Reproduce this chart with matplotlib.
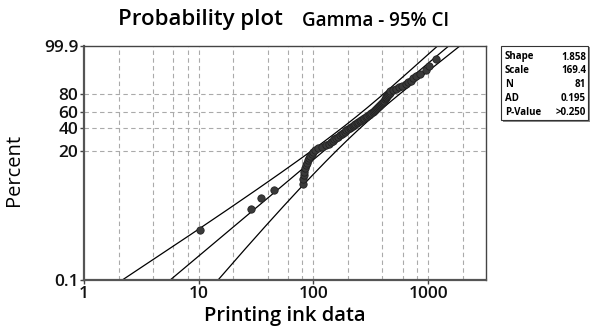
"""Gamma probability plot with 95% confidence bands."""

import math

import matplotlib
matplotlib.use("Agg")
import matplotlib.pyplot as plt
import numpy as np
from matplotlib.patches import Rectangle

# fitted gamma parameters shown in the stats box
shape = 1.858
scale = 169.4
n_obs = 81
ad_stat = "0.195"
p_value = ">0.250"

ink_data = [
    10.3, 28.7, 34.9, 45.0, 81.3, 81.8, 82.3, 83.5, 84.8, 86.5,
    88.0, 89.5, 91.0, 94.0, 97.0, 99.5, 104, 110, 118, 128,
    137, 143, 148, 152, 158, 164, 170, 176, 182, 188,
    194, 200, 207, 214, 220, 226, 232, 239, 246, 253,
    261, 269, 278, 287, 296, 305, 313, 320, 328, 336,
    343, 350, 358, 365, 372, 380, 387, 395, 403, 411,
    418, 426, 434, 442, 451, 459, 465, 470, 495, 525,
    556, 595, 636, 668, 703, 745, 790, 859, 951, 1016,
    1164,
]

pct_ticks = [0.1, 20, 40, 60, 80, 99.9]
pct_labels = ["0.1", "20", "40", "60", "80", "99.9"]
x_ticks = [1, 10, 100, 1000]
x_grid = [2, 4, 6, 8, 10, 20, 40, 60, 80, 100, 200, 400, 600, 800, 1000, 2000]

FONT = ["Open Sans", "DejaVu Sans"]
plt.rcParams["font.family"] = FONT


def gamma_cdf(x, a):
    """Regularized lower incomplete gamma P(a, x) by series."""
    x = np.asarray(x, dtype=float)
    term = np.full_like(x, 1.0 / a)
    total = term.copy()
    for k in range(1, 400):
        term = term * x / (a + k)
        total = total + term
    return total * np.exp(-x + a * np.log(x) - math.lgamma(a))


def gamma_ppf(p, a):
    """Quantile of the unit-scale gamma by bisection on log x."""
    p = np.asarray(p, dtype=float)
    lo = np.full_like(p, math.log(1e-6))
    hi = np.full_like(p, math.log(80.0))
    for _ in range(80):
        mid = 0.5 * (lo + hi)
        below = gamma_cdf(np.exp(mid), a) < p
        lo = np.where(below, mid, lo)
        hi = np.where(below, hi, mid)
    return np.exp(0.5 * (lo + hi))


def trigamma(x):
    acc = 0.0
    while x < 8:
        acc += 1.0 / x ** 2
        x += 1
    return acc + 1 / x + 1 / (2 * x ** 2) + 1 / (6 * x ** 3) - 1 / (30 * x ** 5) + 1 / (42 * x ** 7)


def to_y(p):
    return np.log10(gamma_ppf(p, shape))


# plotting positions (Benard median ranks)
ranks = np.arange(1, n_obs + 1)
plot_pos = (ranks - 0.3) / (n_obs + 0.4)

# fitted line and delta-method confidence band
p_line = np.linspace(0.0005, 0.9995, 300)
q_line = gamma_ppf(p_line, shape)
fit_x = scale * q_line
h = 1e-4
dlogq = (np.log(gamma_ppf(p_line, shape + h)) - np.log(gamma_ppf(p_line, shape - h))) / (2 * h)
psi1 = trigamma(shape)
det = shape * psi1 - 1.0
var_log = (shape * dlogq ** 2 - 2 * dlogq + psi1) / det / n_obs
se = np.sqrt(var_log)
lower_x = fit_x * np.exp(-1.96 * se)
upper_x = fit_x * np.exp(1.96 * se)
y_line = np.log10(q_line)

fig = plt.figure(figsize=(5.9, 3.31), dpi=100)
ax = fig.add_axes([84 / 590, 51 / 331, 402 / 590, 234 / 331])

ax.set_xscale("log")
ax.set_xlim(1, 3200)
ax.set_ylim(to_y(0.001), to_y(0.999))

for gx in x_grid:
    ax.axvline(gx, color="#aaaaaa", lw=0.8, ls=(0, (4, 3)), zorder=0)
for gp in pct_ticks[1:-1]:
    ax.axhline(to_y(gp / 100), color="#aaaaaa", lw=0.8, ls=(0, (4, 3)), zorder=0)

ax.plot(fit_x, y_line, color="black", lw=0.9, zorder=2)
ax.plot(lower_x, y_line, color="black", lw=0.9, zorder=2)
ax.plot(upper_x, y_line, color="black", lw=0.9, zorder=2)
ax.scatter(ink_data, to_y(plot_pos), s=28, color="#3a3a3a",
           edgecolor="#222222", linewidth=0.6, zorder=3)

ax.set_yticks(to_y(np.array(pct_ticks) / 100))
ax.set_yticklabels(pct_labels)
ax.set_xticks(x_ticks)
ax.set_xticklabels([str(t) for t in x_ticks])
ax.xaxis.set_minor_locator(matplotlib.ticker.NullLocator())
ax.tick_params(axis="both", length=3, width=1, color="#444444", labelsize=12.5,
               labelcolor="#111111", pad=1)
for lab in ax.get_xticklabels() + ax.get_yticklabels():
    lab.set_fontweight("semibold")

for side in ["left", "bottom"]:
    ax.spines[side].set_linewidth(1.6)
    ax.spines[side].set_color("#555555")
for side in ["top", "right"]:
    ax.spines[side].set_linewidth(1.0)
    ax.spines[side].set_color("#444444")

ax.set_xlabel("Printing ink data", fontsize=14.5, fontweight="semibold", labelpad=3)
ax.set_ylabel("Percent", fontsize=14.5)
ax.yaxis.set_label_coords(-60 / 402, 0.47)

fig.text(200 / 590, 1 - 19 / 331, "Probability plot", fontsize=16,
         fontweight="semibold", ha="center", va="center")
fig.text(376 / 590, 1 - 21 / 331, "Gamma - 95% CI", fontsize=13.5,
         fontweight="semibold", ha="center", va="center")

# stats box
bx0, by0, bw, bh = 501 / 590, 1 - 120 / 331, 87 / 590, 74 / 331
fig.patches.append(Rectangle((bx0 + 1.5 / 590, by0 - 1.5 / 331), bw, bh,
                             transform=fig.transFigure, facecolor="#888888",
                             edgecolor="none"))
fig.patches.append(Rectangle((bx0, by0), bw, bh, transform=fig.transFigure,
                             facecolor="white", edgecolor="#333333", lw=0.8))
stat_names = ["Shape", "Scale", "N", "AD", "P-Value"]
stat_vals = [f"{shape:.3f}", f"{scale:.1f}", str(n_obs), ad_stat, p_value]
for row, (nm, vl) in enumerate(zip(stat_names, stat_vals)):
    yy = 1 - (57 + row * 13.8) / 331
    fig.text(505 / 590, yy, nm, fontsize=7, fontweight="bold", va="center")
    fig.text(586 / 590, yy, vl, fontsize=7, fontweight="bold", va="center", ha="right")

fig.savefig("out.png", dpi=100)
